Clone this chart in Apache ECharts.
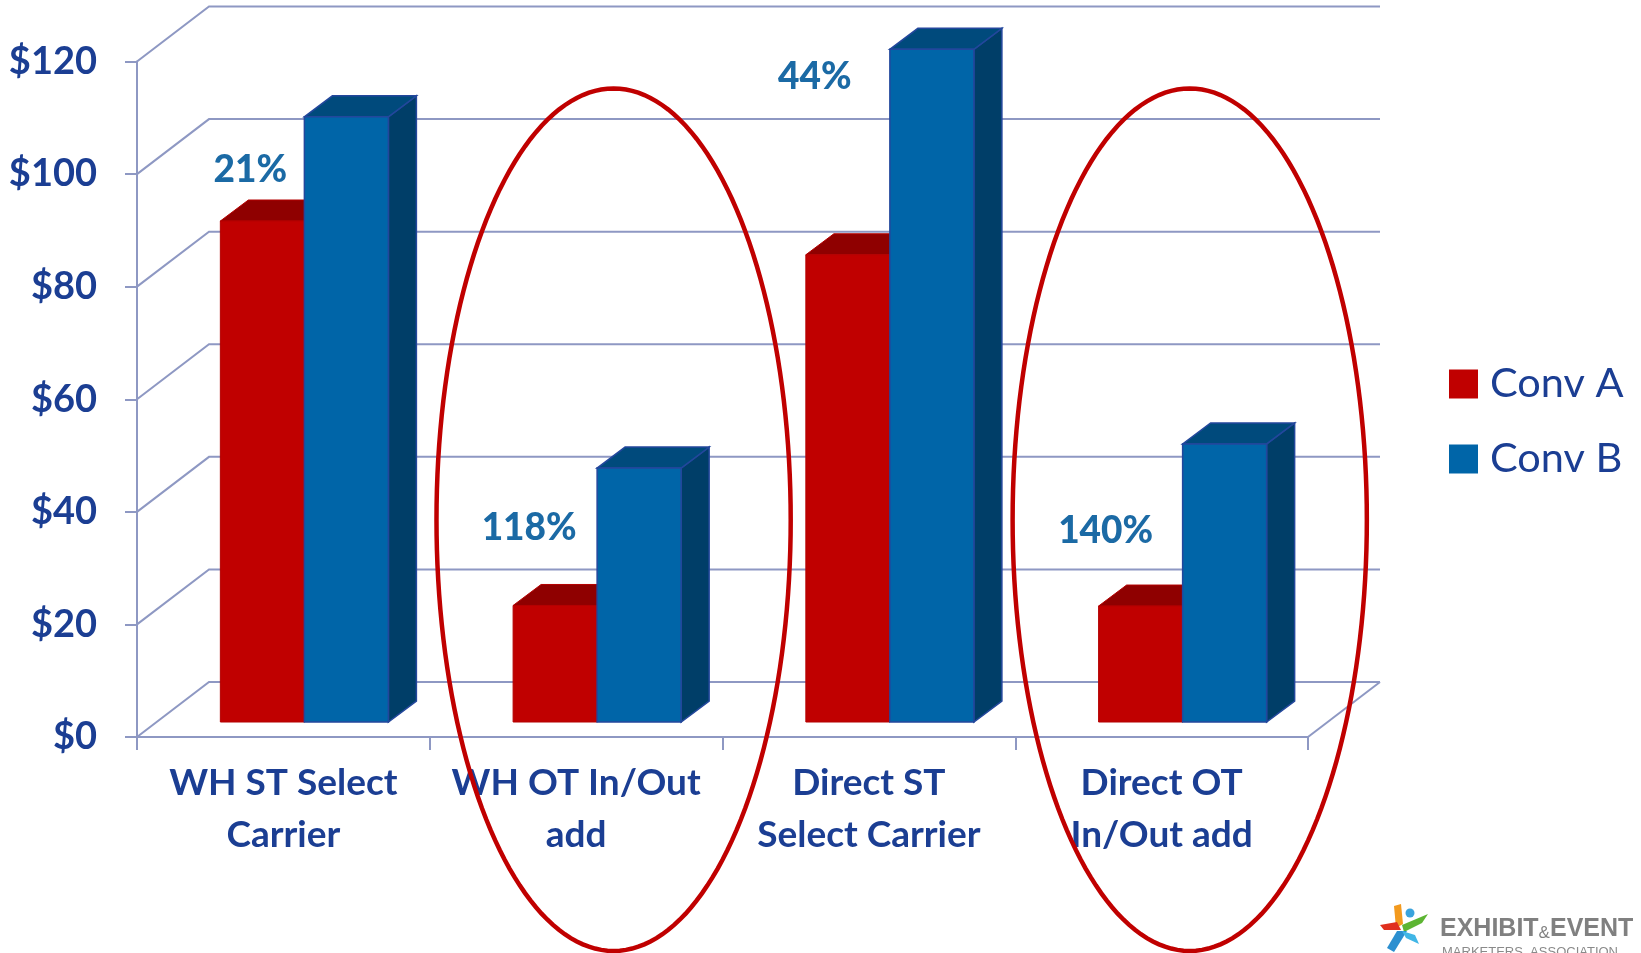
<!DOCTYPE html>
<html>
<head>
<meta charset="utf-8">
<title>Conv A vs Conv B</title>
<script src="https://cdn.jsdelivr.net/npm/echarts@6/dist/echarts.min.js"></script>
<style>
  html, body { margin: 0; padding: 0; background: #ffffff; }
  #chart { width: 1641px; height: 953px; }
</style>
</head>
<body>
<div id="chart"></div>
<script>
// ---- data ----
const categories = ['WH ST Select\nCarrier', 'WH OT In/Out\nadd', 'Direct ST\nSelect Carrier', 'Direct OT\nIn/Out add'];
const seriesNames = ['Conv A', 'Conv B'];
const convA = [89, 20.7, 83, 20.6];
const convB = [107.5, 45.1, 119.5, 49.4];
const yTicks = [0, 20, 40, 60, 80, 100, 120];
const ratioLabels = ['21%', '118%', '44%', '140%'];
const highlighted = [1, 3];

// ---- look & 3D projection ----
const GRID_COLOR = '#8e98c3';
const AXIS_TEXT = '#1b3e93';
const NOTE_TEXT = '#1b6aa5';
const FONT = 'Lato, "Open Sans", sans-serif';
const DEPTH = [72, -55];       // oblique offset of the back wall
const BAR_SHIFT = [21, -15];   // bar front face sits slightly inside the box
const BAR_DEPTH = [28, -21];   // thickness of each column
const BAR_FRAC = 0.287;        // column width as a share of the category band
const NOTE_PLACE = [[-33, 100.7], [-47, 37.1], [-54, 117.3], [-56, 36.6]]; // [px from band centre, value level]
const RING_SHIFT = [0.128, 0.096]; // horizontal offset of each ring, share of band
const FACES = [
  { front: '#c00000', top: '#8f0000', side: '#7a0000', edge: '#b40000' },
  { front: '#0065a8', top: '#004a7c', side: '#003e68', edge: '#23479c' }
];

const chart = echarts.init(document.getElementById('chart'), null, { renderer: 'canvas' });

function renderWall(params, api) {
  const v = api.value(1);
  const band = api.size([1, 0])[0];
  const first = api.coord([0, v]);
  const last = api.coord([categories.length - 1, v]);
  const xl = first[0] - band / 2;
  const xr = last[0] + band / 2;
  const y = first[1];
  const style = { stroke: GRID_COLOR, lineWidth: 2, fill: null };
  const children = [{
    type: 'polyline',
    shape: { points: [[xl, y], [xl + DEPTH[0], y + DEPTH[1]], [xr + DEPTH[0], y + DEPTH[1]]] },
    style: style
  }];
  if (v === 0) {
    children.push({
      type: 'line',
      shape: { x1: xr, y1: y, x2: xr + DEPTH[0], y2: y + DEPTH[1] },
      style: style
    });
  }
  return { type: 'group', children: children };
}

function makeColumn(slot) {
  const f = FACES[slot];
  return function (params, api) {
    const i = api.value(0);
    const v = api.value(1);
    const band = api.size([1, 0])[0];
    const w = band * BAR_FRAC;
    const base = api.coord([i, 0]);
    const top = api.coord([i, v]);
    const x0 = base[0] + BAR_SHIFT[0] + (slot === 0 ? -w : 0);
    const x1 = x0 + w;
    const yb = base[1] + BAR_SHIFT[1];
    const yt = top[1] + BAR_SHIFT[1];
    const dx = BAR_DEPTH[0], dy = BAR_DEPTH[1];
    const lw = slot === 1 ? 1.5 : 1;
    return {
      type: 'group',
      children: [
        { type: 'polygon', shape: { points: [[x1, yt], [x1 + dx, yt + dy], [x1 + dx, yb + dy], [x1, yb]] },
          style: { fill: f.side, stroke: f.edge, lineWidth: lw } },
        { type: 'polygon', shape: { points: [[x0, yt], [x1, yt], [x1 + dx, yt + dy], [x0 + dx, yt + dy]] },
          style: { fill: f.top, stroke: f.edge, lineWidth: lw } },
        { type: 'rect', shape: { x: x0, y: yt, width: w, height: yb - yt },
          style: { fill: f.front, stroke: f.edge, lineWidth: lw } }
      ]
    };
  };
}

function renderNote(params, api) {
  const i = api.value(0);
  const idx = params.dataIndex;
  const centre = api.coord([i, NOTE_PLACE[idx][1]]);
  return {
    type: 'text',
    style: {
      x: centre[0] + NOTE_PLACE[idx][0],
      y: centre[1],
      text: ratioLabels[idx],
      fill: NOTE_TEXT,
      font: '900 37px ' + FONT,
      align: 'center',
      verticalAlign: 'middle'
    }
  };
}

function renderRing(params, api) {
  const i = api.value(0);
  const band = api.size([1, 0])[0];
  const c = api.coord([i, 38.6]);
  const cx = c[0] + band * RING_SHIFT[params.dataIndex];
  const cy = c[1];
  const rx = band * 0.605;
  const ry = api.size([0, 76.6])[1];
  const pts = [];
  for (let k = 0; k < 180; k++) {
    const a = (k / 180) * Math.PI * 2;
    pts.push([cx + rx * Math.cos(a), cy + ry * Math.sin(a)]);
  }
  return {
    type: 'polygon',
    shape: { points: pts },
    style: { fill: null, stroke: '#c00000', lineWidth: 4.5 }
  };
}

const option = {
  backgroundColor: '#ffffff',
  animation: false,
  grid: { left: 137, right: 333, top: 61.5, bottom: 216, containLabel: false },
  legend: {
    data: seriesNames,
    orient: 'vertical',
    left: 1444,
    top: 358,
    icon: 'rect',
    itemWidth: 29,
    itemHeight: 29,
    itemGap: 33,
    textStyle: { color: AXIS_TEXT, fontSize: 41.5, lineHeight: 40, fontFamily: FONT, padding: [0, 0, 0, 7] }
  },
  xAxis: {
    type: 'category',
    data: categories,
    boundaryGap: true,
    axisLine: { show: true, lineStyle: { color: GRID_COLOR, width: 2 } },
    axisTick: { show: true, length: 13, alignWithLabel: false, lineStyle: { color: GRID_COLOR, width: 2 } },
    axisLabel: {
      color: AXIS_TEXT, fontSize: 37, fontWeight: 'bold', lineHeight: 52, margin: 20,
      fontFamily: FONT, interval: 0
    },
    splitLine: { show: false }
  },
  yAxis: {
    type: 'value',
    min: 0,
    max: 120,
    interval: 20,
    axisLine: { show: true, lineStyle: { color: GRID_COLOR, width: 2 } },
    axisTick: { show: true, length: 12, lineStyle: { color: GRID_COLOR, width: 2 } },
    axisLabel: {
      color: AXIS_TEXT, fontSize: 38, fontWeight: 'bold', margin: 40,
      fontFamily: FONT,
      formatter: function (v) { return '$' + v; }
    },
    splitLine: { show: false }
  },
  series: [
    { type: 'custom', name: 'walls', z: 1, silent: true, renderItem: renderWall,
      data: yTicks.map(function (v) { return [0, v]; }) },
    { type: 'custom', name: seriesNames[0], z: 2, renderItem: makeColumn(0),
      itemStyle: { color: FACES[0].front },
      data: convA.map(function (v, i) { return [i, v]; }) },
    { type: 'custom', name: seriesNames[1], z: 3, renderItem: makeColumn(1),
      itemStyle: { color: FACES[1].front },
      data: convB.map(function (v, i) { return [i, v]; }) },
    { type: 'custom', name: 'ratio', z: 5, silent: true, renderItem: renderNote,
      data: ratioLabels.map(function (t, i) { return [i, NOTE_PLACE[i][1]]; }) },
    { type: 'custom', name: 'focus', z: 6, silent: true, clip: false, renderItem: renderRing,
      data: highlighted.map(function (i) { return [i, 38.6]; }) }
  ],
  graphic: [
    {
      type: 'group', left: 1380, top: 904, z: 10,
      children: [
        { type: 'polygon', shape: { points: [[14, 3], [21, 1], [23, 21], [16, 25]] }, style: { fill: '#f39a1e' } },
        { type: 'polygon', shape: { points: [[0, 22], [17, 19], [21, 27], [4, 27]] }, style: { fill: '#e0301e' } },
        { type: 'circle', shape: { cx: 30, cy: 10, r: 4.5 }, style: { fill: '#3aa3dc' } },
        { type: 'polygon', shape: { points: [[22, 22], [48, 11], [42, 20], [24, 29]] }, style: { fill: '#5db533' } },
        { type: 'polygon', shape: { points: [[17, 28], [27, 28], [14, 49], [7, 45]] }, style: { fill: '#2c8fd0' } },
        { type: 'polygon', shape: { points: [[22, 28], [35, 32], [39, 41], [26, 35]] }, style: { fill: '#41b6e6' } }
      ]
    },
    {
      type: 'text', left: 1440, top: 917, z: 10,
      style: {
        text: '{a|EXHIBIT}{b|&}{a|EVENT}',
        rich: {
          a: { fontSize: 25, fontWeight: 'bold', fill: '#808080', fontFamily: '"Liberation Sans Narrow", "Liberation Sans", sans-serif' },
          b: { fontSize: 17, fill: '#808080', fontFamily: '"Liberation Sans Narrow", "Liberation Sans", sans-serif', verticalAlign: 'bottom' }
        }
      }
    },
    {
      type: 'text', left: 1442, top: 946, z: 10,
      style: { text: 'MARKETERS  ASSOCIATION', fontSize: 13, fill: '#8a8a8a', fontFamily: '"Liberation Sans", sans-serif' }
    }
  ]
};

chart.setOption(option);
</script>
</body>
</html>
